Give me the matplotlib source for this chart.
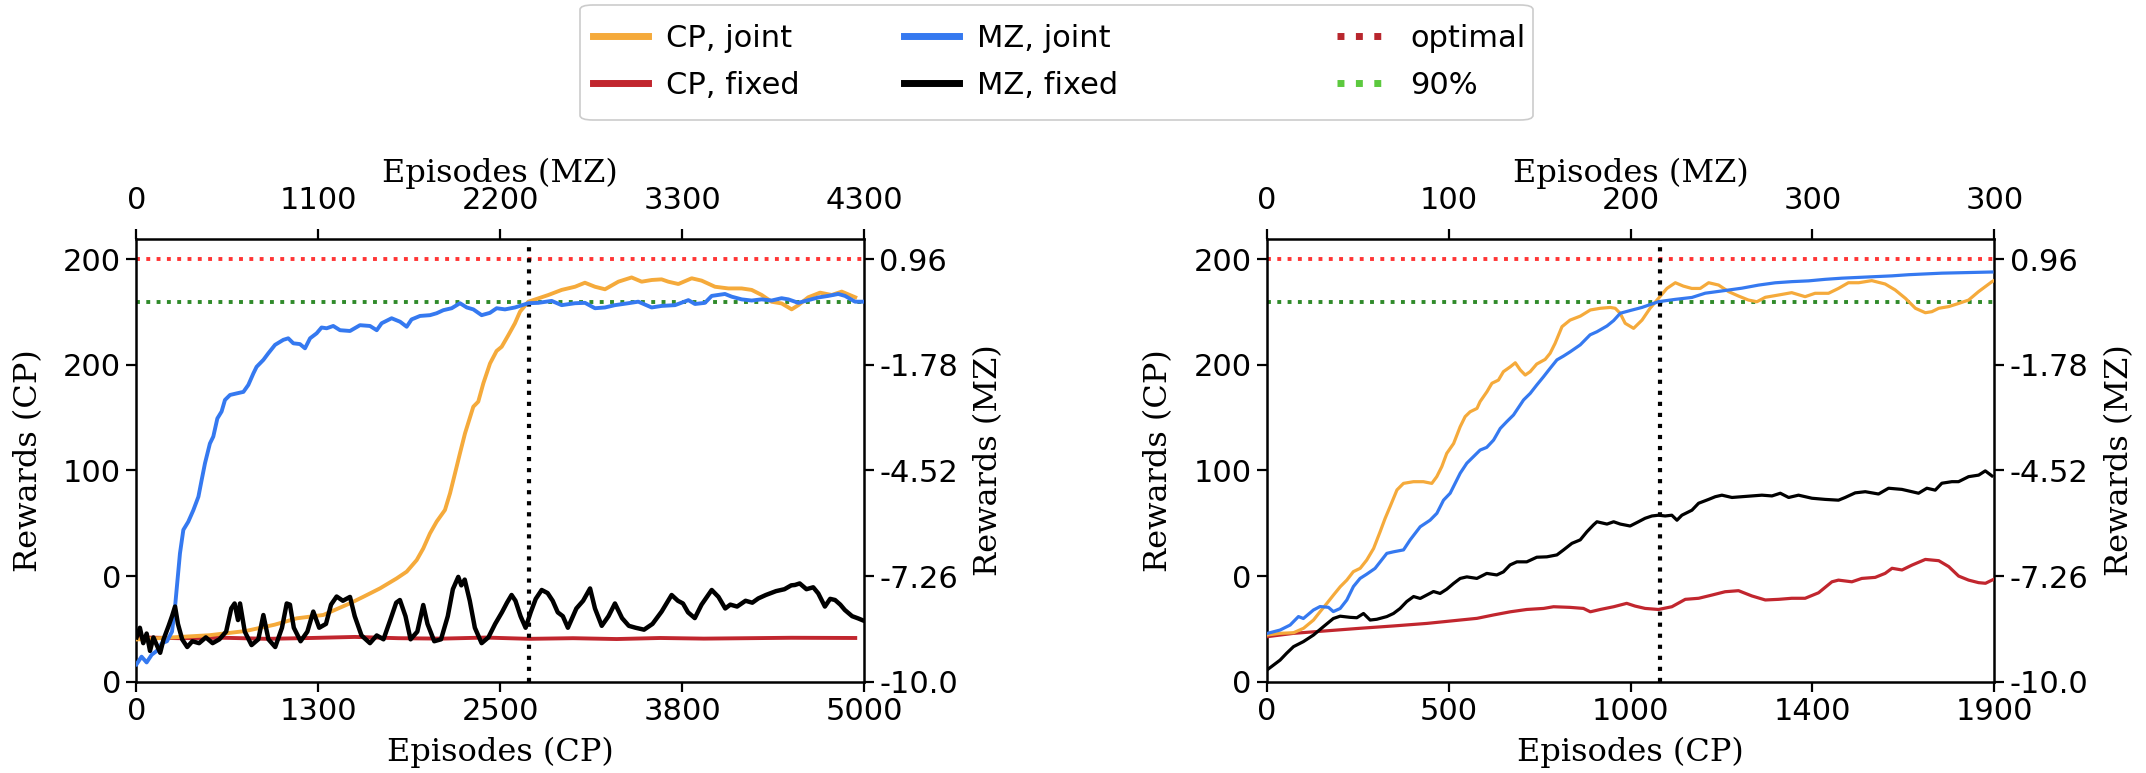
import matplotlib
matplotlib.use("Agg")
import matplotlib.pyplot as plt
from matplotlib.lines import Line2D
from matplotlib.patches import FancyBboxPatch

# ---------------- data ----------------
# Left panel: CartPole (CP) curves, x = CP episodes, y = CP reward
cpj_l_ep = [0, 250, 500, 750, 950, 1101, 1284, 1467, 1559, 1674, 1788, 1857, 1926, 1971, 2017,
            2063, 2120, 2155, 2189, 2223, 2258, 2315, 2349, 2384, 2430, 2475, 2510, 2556, 2601,
            2636, 2693, 2762, 2831, 2922, 3014, 3082, 3151, 3220, 3312, 3403, 3472, 3541, 3609,
            3655, 3724, 3816, 3884, 3976, 4068, 4159, 4228, 4297, 4365, 4434, 4503, 4549, 4617,
            4698, 4778, 4847, 4940]
cpj_l_val = [20, 21, 22, 24, 27, 30, 31.6, 37.1, 40.2, 44.2, 48.9, 52.1, 57.6, 63.1, 70.2,
             75.8, 81.3, 89.2, 98.6, 108.1, 117.6, 130.2, 132.6, 141.3, 150.7, 156.6, 158.6, 164.1, 169.7,
             175.2, 179.9, 181.5, 183.1, 185.5, 187.0, 188.9, 187.0, 185.8, 189.4, 191.4, 189.4, 190.2, 190.5,
             189.4, 188.3, 191.0, 189.9, 187.0, 186.2, 186.2, 185.5, 183.1, 179.9, 179.1, 176.3, 178.3, 182.0,
             184.2, 183.1, 184.7, 182.0]

cpf_l_ep = [0, 300, 600, 900, 1200, 1500, 1800, 2100, 2400, 2700, 3000, 3300, 3600, 3900, 4200, 4500, 4940]
cpf_l_val = [21.0, 20.6, 20.8, 20.3, 20.7, 21.2, 20.6, 20.4, 20.9, 20.3, 20.6, 20.2, 20.7, 20.4, 20.6, 20.8, 20.7]

# Left panel: Maze (MZ) curves, x = MZ episodes, y = MZ reward
mzj_l_ep = [0, 30, 60, 90, 120, 150, 180, 210, 228, 257, 277, 306, 336, 366, 385, 405, 434, 454,
            478, 503, 523, 553, 592, 632, 661, 691, 710, 750, 779, 819, 868, 897, 927, 966, 996,
            1026, 1065, 1094, 1124, 1163, 1203, 1262, 1321, 1380, 1420, 1449, 1508, 1558, 1597,
            1626, 1676, 1735, 1774, 1814, 1863, 1912, 1952, 1991, 2040, 2089, 2129, 2178, 2237,
            2316, 2375, 2454, 2513, 2592, 2651, 2710, 2769, 2828, 2907, 2966, 3045, 3104, 3183,
            3262, 3301, 3360, 3400, 3478, 3518, 3577, 3636, 3695, 3754, 3813, 3853, 3912, 3971,
            4030, 4089, 4148, 4188, 4247, 4300]
mzj_l_val = [-9.55, -9.35, -9.5, -9.3, -9.2, -9.0, -8.95, -8.7, -8.05, -6.67, -6.06, -5.85, -5.55,
             -5.20, -4.77, -4.33, -3.82, -3.64, -3.17, -2.99, -2.69, -2.56, -2.52, -2.48, -2.30,
             -2.00, -1.83, -1.65, -1.48, -1.26, -1.13, -1.09, -1.22, -1.24, -1.35, -1.09, -0.96,
             -0.81, -0.83, -0.77, -0.88, -0.90, -0.75, -0.77, -0.88, -0.70, -0.57, -0.66, -0.79,
             -0.60, -0.51, -0.49, -0.44, -0.36, -0.31, -0.18, -0.29, -0.34, -0.49, -0.43, -0.31,
             -0.34, -0.29, -0.18, -0.17, -0.12, -0.23, -0.18, -0.17, -0.31, -0.29, -0.23, -0.18,
             -0.14, -0.29, -0.25, -0.23, -0.10, -0.20, -0.17, 0.01, 0.06, -0.01, -0.08, -0.11,
             -0.08, -0.11, -0.05, -0.08, -0.17, -0.10, -0.03, 0.01, 0.06, 0.01, -0.14, -0.14]

mzf_l_ep = [0, 20, 40, 60, 80, 100, 120, 140, 160, 190, 210, 228, 245, 270, 300, 330, 370, 410,
            450, 490, 530, 560, 580, 600, 612, 640, 680, 720, 750, 780, 820, 860, 888, 907, 930,
            970, 1010, 1045, 1080, 1120, 1150, 1183, 1220, 1262, 1290, 1330, 1380, 1420, 1460,
            1500, 1535, 1557, 1590, 1620, 1660, 1695, 1720, 1760, 1800, 1840, 1870, 1902, 1920,
            1940, 1970, 2000, 2040, 2080, 2120, 2160, 2190, 2217, 2240, 2270, 2300, 2330, 2360,
            2395, 2430, 2460, 2490, 2520, 2550, 2600, 2640, 2681, 2710, 2750, 2790, 2828, 2870,
            2910, 2950, 3000, 3050, 3104, 3163, 3200, 3230, 3260, 3300, 3340, 3400, 3440, 3480,
            3510, 3550, 3600, 3640, 3675, 3720, 3780, 3830, 3870, 3892, 3920, 3960, 4000, 4030,
            4069, 4100, 4129, 4160, 4187, 4230, 4267, 4300]
mzf_l_val = [-8.85, -8.6, -9.0, -8.75, -9.2, -8.85, -9.05, -9.25, -8.9, -8.55, -8.3, -8.05, -8.5,
             -8.9, -9.1, -8.95, -9.0, -8.85, -9.0, -8.9, -8.7, -8.1, -7.97, -8.4, -7.97, -8.7,
             -9.05, -8.9, -8.27, -8.9, -9.1, -8.6, -7.97, -8.0, -8.6, -8.95, -8.7, -8.18, -8.6,
             -8.5, -8.0, -7.79, -7.9, -7.8, -8.3, -8.8, -9.0, -8.8, -8.9, -8.4, -7.95, -7.88,
             -8.3, -8.9, -8.7, -8.01, -8.5, -8.95, -8.9, -8.3, -7.6, -7.28, -7.5, -7.35, -7.9,
             -8.6, -9.0, -8.85, -8.5, -8.2, -7.95, -7.75, -7.9, -8.3, -8.6, -8.2, -7.85, -7.62,
             -7.7, -7.9, -8.2, -8.3, -8.6, -8.1, -7.9, -7.58, -8.1, -8.55, -8.3, -7.97, -8.35,
             -8.55, -8.6, -8.65, -8.5, -8.18, -7.75, -7.9, -7.97, -8.2, -8.35, -8.0, -7.62, -7.8,
             -8.1, -8.0, -8.05, -7.9, -7.95, -7.84, -7.75, -7.65, -7.6, -7.5, -7.49, -7.45, -7.6,
             -7.55, -7.71, -8.05, -7.85, -7.88, -8.0, -8.14, -8.3, -8.36, -8.42]

# Right panel: CartPole curves
cpj_r_ep = [0, 35, 70, 96, 122, 139, 157, 174, 192, 209, 226, 244, 261, 279, 296, 309, 322, 340,
            357, 383, 409, 431, 444, 457, 470, 488, 505, 518, 531, 549, 557, 575, 588, 605, 618,
            636, 649, 662, 675, 688, 705, 727, 740, 753, 771, 792, 819, 845, 871, 897, 910, 923,
            936, 958, 980, 1001, 1023, 1045, 1067, 1088, 1110, 1132, 1154, 1180, 1206, 1232, 1258,
            1280, 1302, 1337, 1371, 1406, 1432, 1467, 1493, 1519, 1546, 1580, 1615, 1641, 1668,
            1694, 1720, 1737, 1755, 1781, 1807, 1833, 1859, 1894, 1900]
cpj_r_val = [22.1, 22.9, 23.2, 25.3, 29.2, 33.1, 37.1, 41.0, 45.0, 48.1, 52.1, 53.7, 57.6, 63.1,
             71.0, 77.3, 82.9, 90.8, 93.9, 94.7, 94.7, 93.9, 97.1, 101.8, 108.1, 112.8, 120.7,
             125.5, 127.8, 129.4, 132.6, 137.3, 141.3, 142.8, 146.8, 149.1, 151.0, 147.6, 145.2,
             146.8, 150.4, 152.6, 155.5, 160.2, 168.1, 171.2, 173.1, 176.0, 176.8, 177.2, 176.8,
             174.4, 169.7, 167.3, 171.2, 176.8, 181.5, 186.2, 188.9, 187.3, 186.2, 186.2, 188.9,
             187.8, 184.7, 182.6, 180.7, 179.9, 182.0, 183.1, 184.2, 182.3, 183.9, 183.9, 186.2,
             188.9, 188.9, 189.9, 188.3, 185.5, 181.5, 176.8, 174.7, 175.2, 176.8, 177.6, 179.1,
             180.7, 184.7, 189.4, 190.0]

cpf_r_ep = [0, 70, 157, 244, 331, 418, 505, 549, 592, 636, 679, 723, 749, 792, 827, 845, 871, 906,
            940, 962, 988, 1023, 1058, 1093, 1128, 1162, 1197, 1232, 1267, 1302, 1337, 1371, 1406,
            1441, 1476, 1493, 1528, 1554, 1589, 1615, 1633, 1659, 1685, 1720, 1755, 1781, 1807,
            1833, 1859, 1877, 1894, 1900]
cpf_r_val = [21.3, 22.9, 24.1, 25.3, 26.4, 27.6, 29.2, 30.0, 31.6, 33.1, 34.2, 34.7, 35.5, 35.2,
             34.7, 33.1, 34.2, 35.5, 37.1, 35.8, 34.7, 34.2, 35.5, 39.0, 39.5, 41.0, 42.6, 43.1,
             40.6, 38.7, 39.0, 39.5, 39.5, 42.1, 47.3, 48.1, 47.3, 48.9, 49.4, 51.3, 53.7, 52.9,
             55.2, 57.9, 57.3, 54.5, 50.0, 48.1, 46.9, 46.6, 48.1, 48.6]

# Right panel: Maze curves
mzj_r_ep = [0, 6.2, 10.9, 14.8, 17.1, 21.8, 24.9, 28.8, 31.1, 34.3, 37.4, 40.5, 43.6, 46.7, 50.6,
            53.0, 56.1, 59.2, 63.9, 67.0, 71.7, 76.3, 79.5, 82.6, 85.7, 90.4, 93.5, 96.6, 99.7,
            102.8, 106.0, 109.1, 112.2, 115.3, 120.0, 123.1, 126.2, 129.3, 132.4, 135.6, 138.7,
            141.8, 146.5, 151.1, 154.3, 159.0, 162.1, 165.2, 169.8, 175.3, 183.1, 190.9, 198.7,
            204.9, 214.2, 222.0, 229.8, 237.6, 245.4, 253.2, 261.0, 268.8, 276.6, 284.4, 292.2,
            300.0, 307.7, 315.5, 323.3, 331.1, 338.9]
mzj_r_val = [-8.75, -8.66, -8.53, -8.31, -8.36, -8.14, -8.05, -8.07, -8.18, -8.10, -7.88, -7.53,
             -7.32, -7.21, -7.06, -6.89, -6.67, -6.63, -6.58, -6.32, -5.98, -5.81, -5.63, -5.29,
             -5.11, -4.59, -4.33, -4.16, -3.99, -3.92, -3.73, -3.43, -3.25, -3.08, -2.69, -2.52,
             -2.30, -2.09, -1.87, -1.65, -1.55, -1.44, -1.26, -1.00, -0.92, -0.77, -0.63, -0.44,
             -0.37, -0.29, -0.14, -0.08, -0.03, 0.08, 0.15, 0.21, 0.29, 0.35, 0.38, 0.40, 0.44,
             0.47, 0.49, 0.51, 0.53, 0.56, 0.58, 0.60, 0.61, 0.62, 0.63]

mzf_r_ep = [0, 3.1, 6.2, 9.3, 12.5, 17.1, 21.8, 26.5, 31.1, 34.3, 39.0, 42.1, 45.2, 48.3, 51.4,
            56.1, 59.2, 62.3, 65.4, 68.6, 71.7, 74.8, 77.9, 81.0, 84.1, 87.3, 90.4, 93.5, 98.2,
            102.8, 107.5, 110.6, 113.7, 116.9, 121.5, 126.2, 130.9, 135.6, 138.7, 142.6, 146.5,
            149.6, 152.7, 154.3, 159.0, 162.1, 165.2, 169.8, 173.7, 176.8, 180.0, 183.1, 186.2,
            189.3, 191.7, 194.0, 198.7, 201.8, 206.5, 209.6, 212.7, 217.4, 222.0, 226.7, 231.4,
            236.1, 240.0, 243.9, 248.5, 254.8, 261.0, 267.2, 270.3, 275.0, 279.7, 285.9, 290.6,
            296.8, 301.5, 304.6, 308.5, 312.4, 315.5, 320.2, 323.3, 328.0, 332.7, 335.8, 338.9]
mzf_r_val = [-9.70, -9.57, -9.44, -9.26, -9.09, -8.96, -8.79, -8.57, -8.36, -8.30, -8.33, -8.34,
             -8.23, -8.40, -8.38, -8.31, -8.23, -8.10, -7.92, -7.79, -7.84, -7.75, -7.66, -7.71,
             -7.60, -7.45, -7.32, -7.28, -7.32, -7.19, -7.23, -7.15, -6.97, -6.89, -6.89, -6.77,
             -6.76, -6.71, -6.58, -6.41, -6.32, -6.11, -5.93, -5.85, -5.91, -5.85, -5.91, -5.96,
             -5.85, -5.76, -5.70, -5.68, -5.70, -5.68, -5.81, -5.68, -5.55, -5.37, -5.27, -5.20,
             -5.16, -5.22, -5.20, -5.18, -5.16, -5.18, -5.11, -5.22, -5.16, -5.24, -5.27, -5.29,
             -5.22, -5.10, -5.07, -5.13, -4.98, -5.01, -5.07, -5.11, -4.98, -5.03, -4.85, -4.81,
             -4.81, -4.68, -4.64, -4.53, -4.66]

# reference lines / markers
optimal_cp = 200
ninety_cp = 180
cross_left_cp = 2700
cross_right_cp = 1026

# axis ticks and labels
cp_yticks = [0, 50, 100, 150, 200]
cp_yticklabels = ["0", "0", "100", "200", "200"]
mz_yticks = [-10.0, -7.26, -4.52, -1.78, 0.96]
mz_yticklabels = ["-10.0", "-7.26", "-4.52", "-1.78", "0.96"]
l_cp_xticks = [0, 1250, 2500, 3750, 5000]
l_cp_xticklabels = ["0", "1300", "2500", "3800", "5000"]
l_mz_xticks = [0, 1075, 2150, 3225, 4300]
l_mz_xticklabels = ["0", "1100", "2200", "3300", "4300"]
r_cp_xticks = [0, 475, 950, 1425, 1900]
r_cp_xticklabels = ["0", "500", "1000", "1400", "1900"]
r_mz_xticks = [0, 85, 170, 255, 340]
r_mz_xticklabels = ["0", "100", "200", "300", "300"]

legend_labels_a = ["CP, joint", "CP, fixed", "MZ, joint", "MZ, fixed"]
legend_labels_b = ["optimal", "90%"]

# ---------------- styling ----------------
ORANGE = "#f5aa3b"
BLUE = "#3579f0"
RED = "#c1262e"
OPT_C = "#ff3535"
NINETY_C = "#2f8a2a"
OPT_LEG = "#b8262d"
NINETY_LEG = "#5cc93e"

TICK_FS = 22
LABEL_FS = 23
LEG_FS = 22
SERIF = "DejaVu Serif"
W, H = 2146, 773

fig = plt.figure(figsize=(W / 100, H / 100), dpi=100)


def make_panel(left, cp_xlim, mz_xlim, cp_xt, cp_xtl, mz_xt, mz_xtl,
               cp_series, mz_series, vline, lw):
    pos = [left, 0.1181, 0.3390, 0.5727]
    ax = fig.add_axes(pos)
    ax2 = fig.add_axes(pos, frameon=False)
    ax.set_xlim(*cp_xlim)
    ax.set_ylim(0, 209.6)
    ax2.set_xlim(*mz_xlim)
    ax2.set_ylim(-10.0, 1.486)

    for ep, val, c in cp_series:
        ax.plot(ep, val, color=c, lw=lw, zorder=3)
    ax.axhline(optimal_cp, color=OPT_C, ls=":", lw=2.8, zorder=2)
    ax.axhline(ninety_cp, color=NINETY_C, ls=":", lw=2.8, zorder=2)
    ax.axvline(vline, color="black", ls=":", lw=3.0, zorder=4)

    for ep, val, c, w in mz_series:
        ax2.plot(ep, val, color=c, lw=w, zorder=3)

    ax.set_xticks(cp_xt)
    ax.set_xticklabels(cp_xtl)
    ax.set_yticks(cp_yticks)
    ax.set_yticklabels(cp_yticklabels)
    ax2.xaxis.tick_top()
    ax2.xaxis.set_label_position("top")
    ax2.yaxis.tick_right()
    ax2.yaxis.set_label_position("right")
    ax2.set_xticks(mz_xt)
    ax2.set_xticklabels(mz_xtl)
    ax2.set_yticks(mz_yticks)
    ax2.set_yticklabels(mz_yticklabels)

    for a in (ax, ax2):
        a.tick_params(labelsize=TICK_FS, length=7, width=1.6, direction="out", pad=4)
    ax2.tick_params(axis="x", pad=10)
    for s in ax.spines.values():
        s.set_linewidth(1.8)

    ax.set_xlabel("Episodes (CP)", fontsize=LABEL_FS, family=SERIF, labelpad=8)
    ax.set_ylabel("Rewards (CP)", fontsize=LABEL_FS, family=SERIF, labelpad=14)
    ax2.set_xlabel("Episodes (MZ)", fontsize=LABEL_FS, family=SERIF, labelpad=3)
    ax2.set_ylabel("Rewards (MZ)", fontsize=LABEL_FS, family=SERIF, labelpad=11)
    return ax, ax2


make_panel(0.0636, (0, 5000), (0, 4300), l_cp_xticks, l_cp_xticklabels,
           l_mz_xticks, l_mz_xticklabels,
           [(cpf_l_ep, cpf_l_val, RED), (cpj_l_ep, cpj_l_val, ORANGE)],
           [(mzj_l_ep, mzj_l_val, BLUE, 2.8), (mzf_l_ep, mzf_l_val, "black", 3.2)],
           cross_left_cp, 2.8)

make_panel(0.5903, (0, 1900), (0, 340), r_cp_xticks, r_cp_xticklabels,
           r_mz_xticks, r_mz_xticklabels,
           [(cpf_r_ep, cpf_r_val, RED), (cpj_r_ep, cpj_r_val, ORANGE)],
           [(mzj_r_ep, mzj_r_val, BLUE, 2.3), (mzf_r_ep, mzf_r_val, "black", 2.3)],
           cross_right_cp, 2.3)

# ---------------- legend (two blocks inside one frame) ----------------
frame = FancyBboxPatch((580 / W, 1 - 120 / H), (1533 - 580) / W, (120 - 5) / H,
                       boxstyle="round,pad=0,rounding_size=0.006",
                       transform=fig.transFigure, facecolor="white",
                       edgecolor="0.8", lw=1.2, zorder=0)
fig.patches.append(frame)

handles_a = [
    Line2D([], [], color=ORANGE, lw=5),
    Line2D([], [], color=RED, lw=5),
    Line2D([], [], color=BLUE, lw=5),
    Line2D([], [], color="black", lw=5),
]
handles_b = [
    Line2D([], [], color=OPT_LEG, lw=5, ls=":"),
    Line2D([], [], color=NINETY_LEG, lw=5, ls=":"),
]
common = dict(loc="upper left", fontsize=LEG_FS, frameon=False, borderpad=0,
              borderaxespad=0, handlelength=1.8, handletextpad=0.6, labelspacing=0.58)
fig.legend(handles_a, legend_labels_a, bbox_to_anchor=(593 / W, 1 - 24 / H), ncol=2,
           columnspacing=3.4, **common)
fig.legend(handles_b, legend_labels_b, bbox_to_anchor=(1337 / W, 1 - 24 / H), ncol=1,
           **common)

fig.savefig("out.png", dpi=100)
